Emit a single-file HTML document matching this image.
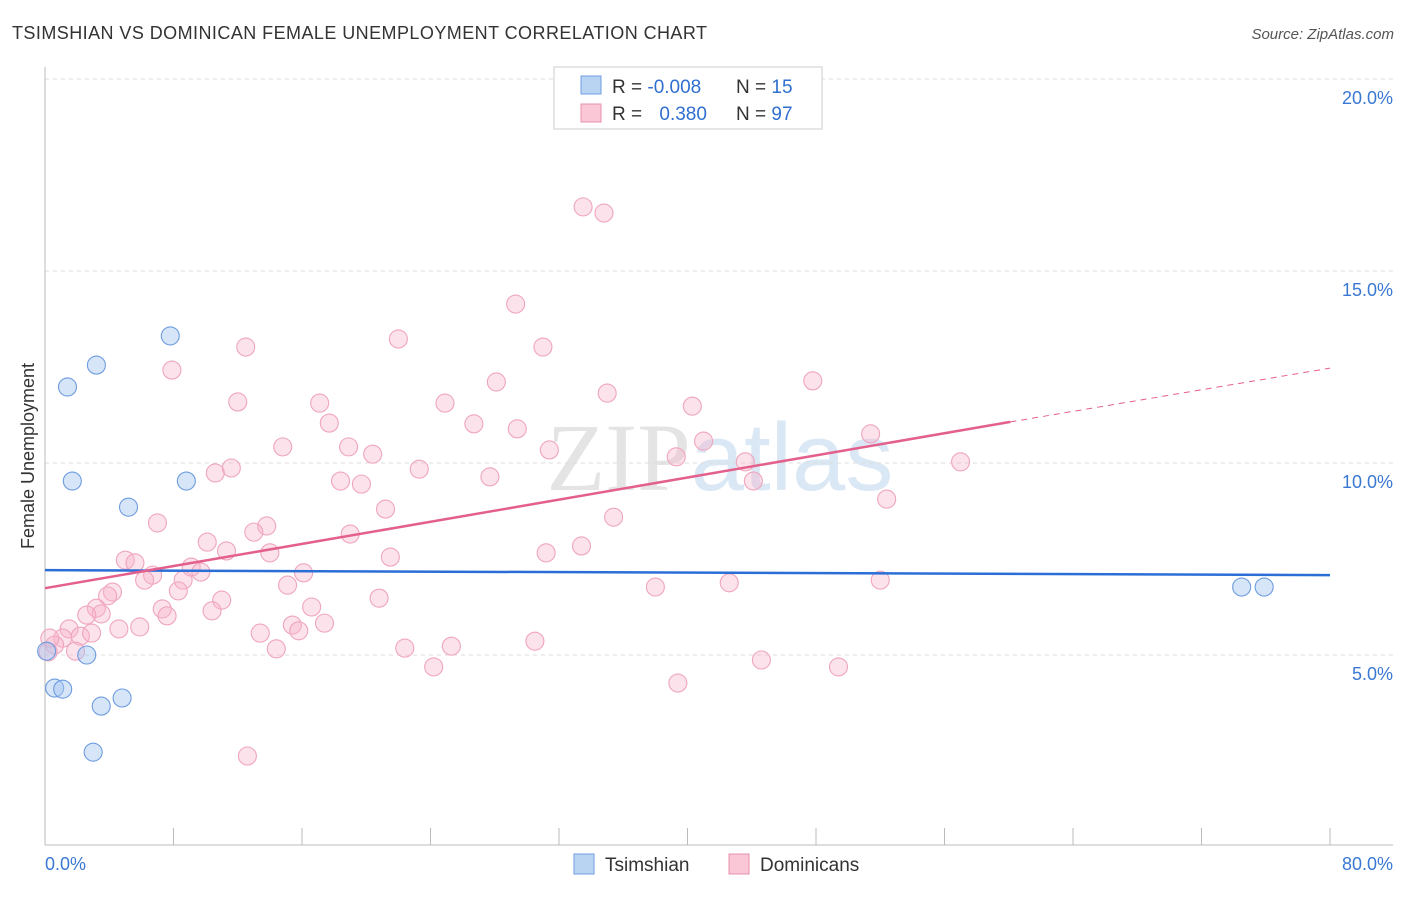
<!DOCTYPE html>
<html><head><meta charset="utf-8"><style>
body{margin:0;background:#fff;font-family:"Liberation Sans",sans-serif;}
svg text{font-family:"Liberation Sans",sans-serif;}
</style></head><body>
<svg id="chart" width="1406" height="892" viewBox="0 0 1406 892">
<text x="12" y="39" font-size="18" fill="#333" textLength="695">TSIMSHIAN VS DOMINICAN FEMALE UNEMPLOYMENT CORRELATION CHART</text>
<text x="1394" y="39" font-size="15" fill="#555" font-style="italic" text-anchor="end">Source: ZipAtlas.com</text>
<text x="720" y="490" font-size="96" text-anchor="middle"><tspan fill="#e4e4e4" font-family="Liberation Serif">ZIP</tspan><tspan fill="#dae7f5">atlas</tspan></text>
<g id="grid"></g>
<g id="axes"></g>
<g id="marks"></g>
<text transform="translate(34,456) rotate(-90)" font-size="18" fill="#333" text-anchor="middle">Female Unemployment</text>
<g>
<rect x="554" y="67" width="268" height="62" fill="#fff" stroke="#ccc"/>
<rect x="581" y="76" width="20" height="18" fill="#b9d3f3" stroke="#6f9ee0"/>
<rect x="581" y="104" width="20" height="18" fill="#f9c7d6" stroke="#e890ab"/>
<text x="612" y="93" font-size="19" fill="#333">R = <tspan fill="#2f6fd0">-0.008</tspan></text>
<text x="736" y="93" font-size="19" fill="#333">N = <tspan fill="#2f6fd0">15</tspan></text>
<text x="612" y="120" font-size="19" fill="#333">R = <tspan fill="#2f6fd0" dx="12">0.380</tspan></text>
<text x="736" y="120" font-size="19" fill="#333">N = <tspan fill="#2f6fd0">97</tspan></text>
</g>
<g>
<rect x="574" y="854" width="20" height="20" fill="#b9d3f3" stroke="#6f9ee0"/>
<text x="605" y="871" font-size="19" fill="#333">Tsimshian</text>
<rect x="729" y="854" width="20" height="20" fill="#f9c7d6" stroke="#e890ab"/>
<text x="760" y="871" font-size="19" fill="#333">Dominicans</text>
</g>
</svg>
<script>
const yTicks=[5,10,15,20];
const yTickLabels=["5.0%","10.0%","15.0%","20.0%"];
const xTickVals=[8,16,24,32,40,48,56,64,72,80];
const xEndLabels=["0.0%","80.0%"];
const tsX=[7.8,3.2,1.4,1.7,8.8,5.2,0.1,2.6,0.6,1.1,4.8,3.5,3.0,74.5,75.9];
const tsY=[13.31,12.55,11.98,9.53,9.53,8.85,5.10,5.00,4.14,4.11,3.88,3.67,2.47,6.77,6.77];
const doX=[33.5,34.8,29.3,22.0,12.5,31.0,7.9,28.1,47.8,35.0,12.0,17.1,24.9,40.3,17.7,26.7,29.4,51.4,14.8,18.9,41.0,31.4,20.4,39.3,43.6,57.0,11.6,10.6,23.3,27.7,18.4,19.7,44.1,52.4,21.2,7.0,35.4,13.8,13.0,19.0,10.1,11.3,33.4,14.0,31.2,5.0,21.5,5.6,9.1,9.7,6.7,6.2,8.6,16.1,52.0,42.6,38.0,15.1,8.3,4.2,3.9,11.0,20.8,3.2,7.3,16.6,7.6,10.4,3.5,2.6,5.9,4.6,17.4,15.4,1.5,15.8,13.4,2.2,2.9,1.1,0.6,0.3,0.2,1.9,30.5,25.3,22.4,14.4,24.2,44.6,49.4,39.4,12.6];
const doY=[16.67,16.51,14.14,13.23,13.02,13.02,12.42,12.11,12.14,11.82,11.59,11.56,11.56,11.48,11.04,11.02,10.89,10.76,10.42,10.42,10.57,10.34,10.23,10.16,10.03,10.03,9.87,9.74,9.84,9.64,9.53,9.45,9.53,9.06,8.80,8.44,8.59,8.36,8.20,8.15,7.94,7.71,7.84,7.66,7.66,7.47,7.55,7.40,7.29,7.16,7.08,6.95,6.95,7.14,6.95,6.88,6.77,6.82,6.67,6.64,6.54,6.43,6.48,6.22,6.20,6.25,6.02,6.15,6.07,6.04,5.73,5.68,5.83,5.78,5.68,5.63,5.57,5.49,5.57,5.44,5.26,5.44,5.08,5.10,5.36,5.23,5.18,5.16,4.69,4.87,4.69,4.27,2.37];
const tsTrend=[7.21,7.08];
const doTrend=[6.74,11.07,12.47];
const doTrendSolidEnd=60.1;

const X=v=>45+v/80*1285;
const Y=v=>847-v*38.4;
const NS='http://www.w3.org/2000/svg';
function mk(parent,tag,attrs){const e=document.createElementNS(NS,tag);for(const k in attrs)e.setAttribute(k,attrs[k]);document.getElementById(parent).appendChild(e);return e;}

yTicks.forEach((t,i)=>{
  const l=mk('grid','line',{x1:45,x2:1393,y1:Y(t),y2:Y(t),stroke:'#dcdcdc','stroke-dasharray':'4,4'});
  
  
  const tx=mk('axes','text',{x:1393,y:Y(t)+25,'font-size':18,fill:'#3a78d4','text-anchor':'end'});
  tx.textContent=yTickLabels[i];
  
  
});
const ax=mk('axes','line',{x1:45,x2:45,y1:67,y2:845,stroke:'#bbb'});


const bx=mk('axes','line',{x1:45,x2:1393,y1:845,y2:845,stroke:'#bbb'});


xTickVals.forEach(v=>{
  const t=mk('axes','line',{x1:X(v),x2:X(v),y1:828,y2:845,stroke:'#bbb'});
  
  
});
[[0,'start',45],[80,'end',1393]].forEach((a,i)=>{
  const t=mk('axes','text',{x:a[2],y:870,'font-size':18,fill:'#3a78d4','text-anchor':a[1]});
  t.textContent=xEndLabels[i];
  
  
});
doX.forEach((v,i)=>{
  const c=mk('marks','circle',{cx:X(v),cy:Y(doY[i]),r:9,fill:'rgba(248,180,202,0.38)',stroke:'#efa5bd','stroke-width':1.1});
  
  
});
tsX.forEach((v,i)=>{
  const c=mk('marks','circle',{cx:X(v),cy:Y(tsY[i]),r:9,fill:'rgba(165,198,240,0.45)',stroke:'#6d9ce0','stroke-width':1.1});
  
  
});
const tl=mk('marks','line',{x1:X(0),y1:Y(tsTrend[0]),x2:X(80),y2:Y(tsTrend[1]),stroke:'#2b6fd6','stroke-width':2.5});


const dl=mk('marks','line',{x1:X(0),y1:Y(doTrend[0]),x2:X(doTrendSolidEnd),y2:Y(doTrend[1]),stroke:'#e4608c','stroke-width':2.5});


const dd=mk('marks','line',{x1:X(doTrendSolidEnd),y1:Y(doTrend[1]),x2:X(80),y2:Y(doTrend[2]),stroke:'#e4608c','stroke-width':1,'stroke-dasharray':'6,5'});


</script>
</body></html>
